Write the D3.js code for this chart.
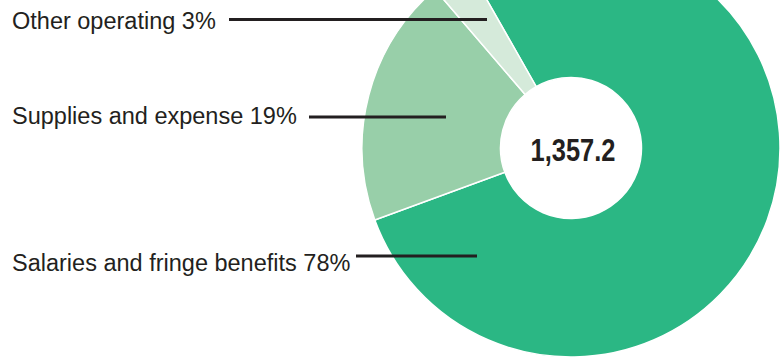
<!DOCTYPE html>
<html>
<head>
<meta charset="utf-8">
<script src="https://cdn.jsdelivr.net/npm/d3@7"></script>
<style>
	body{margin:0;background:#fff;}
	svg{display:block;}
	.lbl{font-family:"Liberation Sans",Arial,Helvetica,sans-serif;font-size:23.5px;fill:#231f20;}
	.total{font-family:"Liberation Sans Narrow","Arial Narrow","Liberation Sans",Arial,sans-serif;font-weight:bold;font-size:31px;fill:#231f20;}
</style>
</head>
<body>
<div class="donut"></div>
<script>
// spending by category, millions
const categories=['Salaries and fringe benefits','Supplies and expense','Other operating'];
const values=[1053.5,262.2,41.5];
const percents=['78%','19%','3%'];
const colors=['#2bb784','#98cfa9','#d5eada'];
const total='1,357.2';

const width=783;
const height=361;
const cx=571, cy=148;
const outerR=209, innerR=70.5;

const svg=d3.select('.donut')
	.append('svg')
	.attr('width',width)
	.attr('height',height)

const pie=d3.pie()
	.sort(null)
	.value(d=>d)
	.startAngle(-29.6*Math.PI/180)
	.endAngle(-29.6*Math.PI/180+2*Math.PI)

const arc=d3.arc()
	.innerRadius(innerR)
	.outerRadius(outerR)

const g=svg.append('g')
	.attr('transform','translate('+cx+','+cy+')')

g.selectAll('path')
	.data(pie(values))
	.enter()
	.append('path')
	.attr('d',arc)
	.attr('fill',function(d,i){
		return colors[i]
	})
	.attr('stroke','#fff')
	.attr('stroke-width',1.5)

// label layout: text baseline, line y, line start, line end
const labelPos=[
	{y:270.5, ly:256, x1:356, x2:477},
	{y:123.5, ly:117, x1:309, x2:446},
	{y:28.5, ly:19.5, x1:229, x2:487}
]

svg.selectAll('line.leader')
	.data(categories)
	.enter()
	.append('line')
	.attr('class','leader')
	.attr('x1',(d,i)=>labelPos[i].x1)
	.attr('x2',(d,i)=>labelPos[i].x2)
	.attr('y1',(d,i)=>labelPos[i].ly)
	.attr('y2',(d,i)=>labelPos[i].ly)
	.attr('stroke','#231f20')
	.attr('stroke-width',3)

svg.selectAll('text.lbl')
	.data(categories)
	.enter()
	.append('text')
	.attr('class','lbl')
	.attr('x',12)
	.attr('y',(d,i)=>labelPos[i].y)
	.text((d,i)=>d+' '+percents[i])

svg.append('text')
	.attr('class','total')
	.attr('x',cx+2)
	.attr('y',cy+13)
	.attr('text-anchor','middle')
	.attr('textLength',85)
	.attr('lengthAdjust','spacingAndGlyphs')
	.text(total)
</script>
</body>
</html>
